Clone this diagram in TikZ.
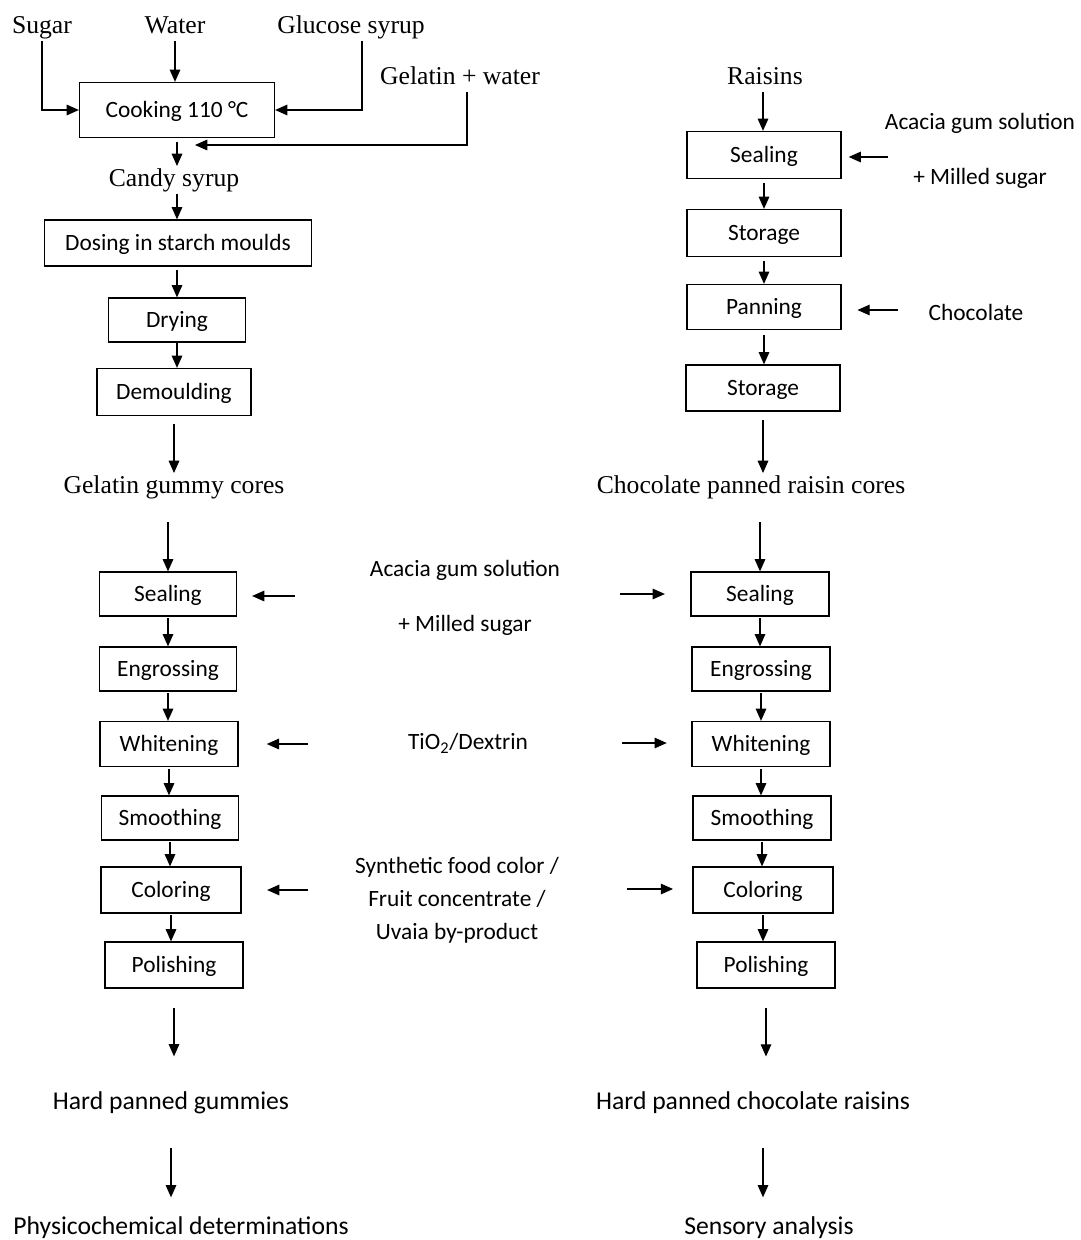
\documentclass[tikz,border=0pt]{standalone}
\usepackage{fontspec}
\setmainfont{Liberation Serif}
\newfontfamily\calfont{Carlito}
\usetikzlibrary{arrows.meta}

\begin{document}
\begin{tikzpicture}[x=0.02cm, y=-0.02cm,
  flow/.style={-{Triangle[length=7pt,width=6pt]}, line width=0.8pt},
  stage/.style={draw, line width=0.7pt, inner sep=0pt, minimum height=0.9cm,
    text height=11pt, text depth=2.4pt,
    font=\calfont\fontsize{13.3}{16}\selectfont},
  serif/.style={inner sep=1pt, text height=10.5pt, text depth=3pt,
    font=\fontsize{14.6}{17}\selectfont},
  sans/.style={inner sep=1pt, align=center, font=\calfont\fontsize{13.3}{18.7}\selectfont},
  big/.style={inner sep=1pt, font=\calfont\fontsize{14.6}{17}\selectfont}]
  \useasboundingbox (0,0) rectangle (1080,1240);

  % gummy cores
  \node[serif] (sugar) at (42,27) {Sugar};
  \node[serif] (water) at (175,27) {Water};
  \node[serif] (glucose) at (351,27) {Glucose syrup};
  \node[serif] (gelatin) at (460,78) {Gelatin + water};
  \node[stage, minimum width=3.9cm, minimum height=1.1cm] (cook) at (177,110) {Cooking 110 °C};
  \coordinate (gjoin) at (195,145);
  \node[serif] (candy) at (174,180) {Candy syrup};
  \node[stage, minimum width=5.34cm, minimum height=0.92cm] (dosing) at (178,243) {Dosing in starch moulds};
  \node[stage, minimum width=2.74cm, minimum height=0.88cm] (drying) at (177,320) {Drying};
  \node[stage, minimum width=3.08cm, minimum height=0.94cm] (demould) at (174,392) {Demoulding};
  \node[serif] (gcores) at (174,487) {Gelatin gummy cores};

  \draw[flow] (sugar.south) |- (cook.west);
  \draw[flow] (water.south) -- (water.south |- cook.north);
  \draw[flow] ([xshift=0.22cm]glucose.south) |- (cook.east);
  \draw[flow] ([xshift=0.14cm]gelatin.south) |- (gjoin);
  \draw[flow, shorten <=2pt] (cook.south) -- (cook.south |- candy.north);
  \draw[flow] (cook.south |- candy.south) -- (cook.south |- dosing.north);
  \draw[flow, shorten <=2pt] (drying.north |- dosing.south) -- (drying.north);
  \draw[flow] (drying.south) -- (drying.south |- demould.north);
  \draw[flow, shorten <=4.5pt] (gcores.north |- demould.south) -- (gcores.north);

  % raisin cores
  \node[serif] (raisins) at (765,78) {Raisins};
  \node[stage, minimum width=3.08cm, minimum height=0.94cm] (rsealing) at (764,155) {Sealing};
  \node[sans] (racacia) at (980,123) {Acacia gum solution};
  \node[sans] (rmilled) at (980,178) {+ Milled sugar};
  \coordinate (rs1) at (888,157);
  \node[stage, minimum width=3.08cm, minimum height=0.94cm] (rstore) at (764,233) {Storage};
  \node[stage, minimum width=3.08cm, minimum height=0.9cm] (rpan) at (764,307) {Panning};
  \node[sans] (choco) at (976,312) {Chocolate};
  \coordinate (rp1) at (898,310);
  \node[stage, minimum width=3.08cm, minimum height=0.92cm] (rstoreb) at (763,388) {Storage};
  \node[serif] (rcores) at (751,487) {Chocolate panned raisin cores};

  \draw[flow] ([xshift=-0.04cm]raisins.south) -- ([xshift=-0.04cm]raisins.south |- rsealing.north);
  \draw[flow, shorten >=4pt] (rs1) -- (rs1 -| rsealing.east);
  \draw[flow, shorten <=2pt] (rsealing.south) -- (rsealing.south |- rstore.north);
  \draw[flow, shorten <=2pt] (rstore.south) -- (rstore.south |- rpan.north);
  \draw[flow, shorten >=9pt] (rp1) -- (rp1 -| rpan.east);
  \draw[flow, shorten <=3pt] (rpan.south) -- (rpan.south |- rstoreb.north);
  \draw[flow, shorten <=5pt] (rstoreb.south) -- (rstoreb.south |- rcores.north);

  % panning of gummies
  \node[stage, minimum width=2.74cm, minimum height=0.88cm] (gseal) at (168,594) {Sealing};
  \node[stage, minimum width=2.74cm, minimum height=0.88cm] (geng) at (168,669) {Engrossing};
  \node[stage, minimum width=2.76cm] (gwhite) at (169,744) {Whitening};
  \node[stage, minimum width=2.74cm, minimum height=0.88cm] (gsmooth) at (170,818) {Smoothing};
  \node[stage, minimum width=2.8cm, minimum height=0.92cm] (gcolor) at (171,890) {Coloring};
  \node[stage, minimum width=2.76cm, minimum height=0.92cm] (gpolish) at (174,965) {Polishing};
  \node[big] (gfinal) at (171,1103) {Hard panned gummies};
  \node[big] (physchem) at (181,1228) {Physicochemical determinations};

  \draw[flow, shorten <=12pt] (gseal.north |- gcores.south) -- (gseal.north);
  \draw[flow, shorten <=1pt] (gseal.south) -- (gseal.south |- geng.north);
  \draw[flow, shorten <=1pt] (geng.south) -- (geng.south |- gwhite.north);
  \draw[flow, shorten <=1pt] (gwhite.south) -- (gwhite.south |- gsmooth.north);
  \draw[flow, shorten <=1pt] (gsmooth.south) -- (gsmooth.south |- gcolor.north);
  \draw[flow, shorten <=1pt] (gcolor.south) -- (gcolor.south |- gpolish.north);
  \draw[flow, shorten <=11pt, shorten >=19pt] (gpolish.south) -- (gpolish.south |- gfinal.north);
  \draw[flow, shorten <=18pt, shorten >=10pt] (gfinal.south) -- (gfinal.south |- physchem.north);

  % panning of raisins
  \node[stage, minimum width=2.76cm, minimum height=0.88cm] (rseal) at (760,594) {Sealing};
  \node[stage, minimum width=2.76cm, minimum height=0.88cm] (reng) at (761,669) {Engrossing};
  \node[stage, minimum width=2.76cm] (rwhite) at (761,744) {Whitening};
  \node[stage, minimum width=2.76cm, minimum height=0.88cm] (rsmooth) at (762,818) {Smoothing};
  \node[stage, minimum width=2.8cm, minimum height=0.92cm] (rcolor) at (763,890) {Coloring};
  \node[stage, minimum width=2.76cm, minimum height=0.92cm] (rpolish) at (766,965) {Polishing};
  \node[big] (rfinal) at (753,1103) {Hard panned chocolate raisins};
  \node[big] (sensory) at (769,1228) {Sensory analysis};

  \draw[flow, shorten <=12pt] (rseal.north |- rcores.south) -- (rseal.north);
  \draw[flow, shorten <=1pt] (rseal.south) -- (rseal.south |- reng.north);
  \draw[flow, shorten <=1pt] (reng.south) -- (reng.south |- rwhite.north);
  \draw[flow, shorten <=1pt] (rwhite.south) -- (rwhite.south |- rsmooth.north);
  \draw[flow, shorten <=1pt] (rsmooth.south) -- (rsmooth.south |- rcolor.north);
  \draw[flow, shorten <=1pt] (rcolor.south) -- (rcolor.south |- rpolish.north);
  \draw[flow, shorten <=11pt, shorten >=19pt] (rpolish.south) -- (rpolish.south |- rfinal.north);
  \draw[flow, shorten <=18pt, shorten >=10pt] ([xshift=0.2cm]rfinal.south) -- ([xshift=0.2cm]rfinal.south |- sensory.north);

  % coating inputs
  \node[sans] (acacia) at (465,570) {Acacia gum solution};
  \node[sans] (milled) at (465,625) {+ Milled sugar};
  \node[sans] (tio) at (468,743) {TiO\textsubscript{2}/Dextrin};
  \node[sans] (colors) at (457,900) {Synthetic food color /\\Fruit concentrate /\\Uvaia by-product};
  \coordinate (ga) at (295,596);
  \coordinate (gb) at (308,744);
  \coordinate (gc) at (308,890);
  \coordinate (ra) at (620,594);
  \coordinate (rb) at (622,743);
  \coordinate (rc) at (627,889);

  \draw[flow, shorten >=8.5pt] (ga) -- (ga -| gseal.east);
  \draw[flow, shorten >=16pt] (gb) -- (gb -| gwhite.east);
  \draw[flow, shorten >=14.5pt] (gc) -- (gc -| gcolor.east);
  \draw[flow, shorten >=14.5pt] (ra) -- (ra -| rseal.west);
  \draw[flow, shorten >=14pt] (rb) -- (rb -| rwhite.west);
  \draw[flow, shorten >=11pt] (rc) -- (rc -| rcolor.west);
\end{tikzpicture}
\end{document}
